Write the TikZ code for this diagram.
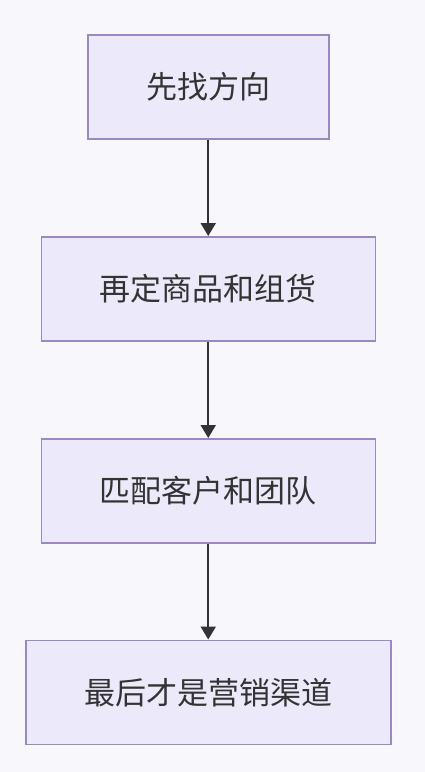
\documentclass[tikz,border=0pt]{standalone}
\usepackage{fontspec}
\newfontfamily\cjk{Noto Sans CJK SC}
\usetikzlibrary{arrows.meta}
\definecolor{bg}{HTML}{F8F8FC}
\definecolor{boxfill}{HTML}{ECEAFA}
\definecolor{boxline}{HTML}{9C88C6}
\definecolor{txt}{HTML}{333333}
\tikzset{
  stepbox/.style={draw=boxline, fill=boxfill, line width=1.5pt, inner sep=0pt,
    text=txt, font=\cjk\fontsize{31}{37}\selectfont, anchor=north west},
  flow/.style={draw=txt, line width=2pt, -{Triangle[width=15pt,length=13pt]}}
}
\begin{document}
\begin{tikzpicture}[x=1pt,y=-1pt]
\fill[bg] (0,0) rectangle (425,772);
\useasboundingbox (0,0) rectangle (425,772);
\node[stepbox, minimum width=241pt, minimum height=104pt] (a) at (87,34) {先找方向};
\node[stepbox, minimum width=334pt, minimum height=104pt] (b) at (40.5,236) {再定商品和组货};
\node[stepbox, minimum width=334pt, minimum height=104pt] (c) at (40.5,438) {匹配客户和团队};
\node[stepbox, minimum width=365pt, minimum height=104pt] (d) at (25,639.5) {最后才是营销渠道};
\draw[flow] (a.south) -- (b.north);
\draw[flow] (b.south) -- (c.north);
\draw[flow] (c.south) -- (d.north);
\end{tikzpicture}
\end{document}
